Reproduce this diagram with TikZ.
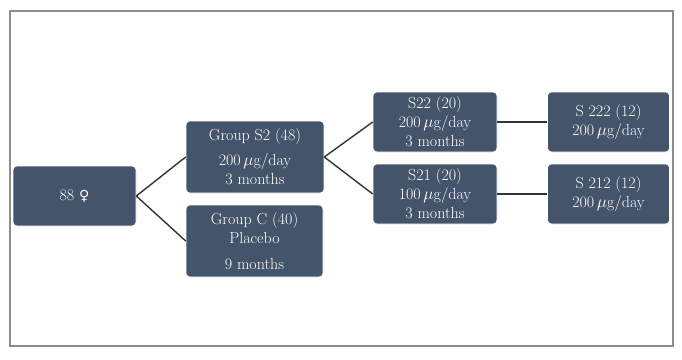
\documentclass[tikz,border=0pt]{standalone}
\usepackage{fontspec}
\newfontfamily\symfont{DejaVu Sans}
\definecolor{boxblue}{HTML}{44546A}
\definecolor{linegray}{HTML}{333333}
\definecolor{framegray}{HTML}{8C8C8C}
\begin{document}
\begin{tikzpicture}[x=1pt,y=-1pt,
  box/.style={fill=boxblue,draw=white,line width=0.6pt,rounded corners=4pt,text=white,align=center,inner sep=0pt,
    font=\fontsize{16}{19}\selectfont},
  conn/.style={draw=linegray,line width=1.4pt}]
\useasboundingbox (0,0) rectangle (682,359);
\draw[framegray,line width=1.2pt] (10,11) rectangle (673,346);
\node[box,minimum width=123pt,minimum height=60pt] (n88) at (74.5,196) {88 {\symfont\fontsize{14}{16}\selectfont ♀}};
\node[box,minimum width=138pt,minimum height=72pt] (gs2) at (255,157) {Group S2 (48)\\[6pt]200\,$\mu$g/day\\3 months};
\node[box,minimum width=137pt,minimum height=72pt] (gc) at (254.5,241) {Group C (40)\\Placebo\\[7pt]9 months};
\node[box,minimum width=124pt,minimum height=60pt] (s22) at (435,122) {S22 (20)\\200\,$\mu$g/day\\3 months};
\node[box,minimum width=124pt,minimum height=60pt] (s21) at (435,194) {S21 (20)\\100\,$\mu$g/day\\3 months};
\node[box,minimum width=122pt,minimum height=60pt] (s222) at (608.5,122) {S 222 (12)\\200\,$\mu$g/day};
\node[box,minimum width=122pt,minimum height=60pt] (s212) at (608.5,194) {S 212 (12)\\200\,$\mu$g/day};
\draw[conn] (n88.east) -- (gs2.west);
\draw[conn] (n88.east) -- (gc.west);
\draw[conn] (gs2.east) -- (s22.west);
\draw[conn] (gs2.east) -- (s21.west);
\draw[conn] (s22.east) -- (s222.west);
\draw[conn] (s21.east) -- (s212.west);
\end{tikzpicture}
\end{document}
